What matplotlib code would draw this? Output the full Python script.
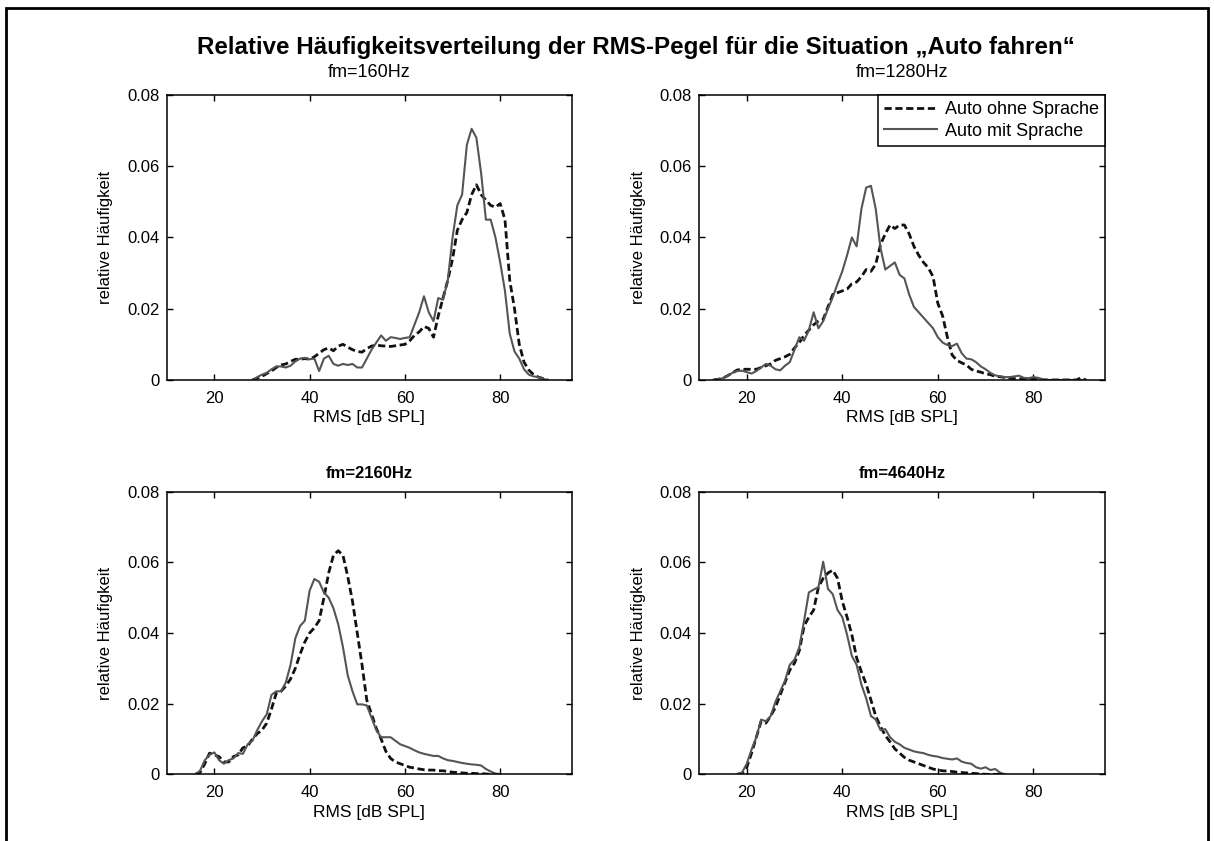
import numpy as np
import matplotlib
matplotlib.use('Agg')
from matplotlib import pyplot as plt
from matplotlib.patches import Rectangle

plt.rcParams['font.family'] = ['Liberation Sans', 'DejaVu Sans']

x160 = np.arange(28, 91)
mit160 = [0.0, 0.0008, 0.0015, 0.002, 0.003, 0.0038, 0.0038, 0.0035, 0.004, 0.0052,
          0.006, 0.0062, 0.0058, 0.006, 0.0025, 0.006, 0.0068, 0.0045, 0.004, 0.0045,
          0.0042, 0.0045, 0.0035, 0.0035, 0.006, 0.0085, 0.0105, 0.0125, 0.011, 0.012,
          0.0118, 0.0115, 0.0118, 0.012, 0.0155, 0.019, 0.0235, 0.019, 0.0165, 0.023,
          0.0225, 0.028, 0.04, 0.049, 0.052, 0.066, 0.0705, 0.068, 0.058, 0.045,
          0.045, 0.04, 0.033, 0.025, 0.013, 0.008, 0.006, 0.003, 0.0015, 0.001,
          0.0008, 0.0003, 0.0]
ohne160 = [0.0, 0.0005, 0.001, 0.0018, 0.0025, 0.0035, 0.0042, 0.0045, 0.0052, 0.0058,
           0.0058, 0.006, 0.0058, 0.0065, 0.0075, 0.0085, 0.009, 0.0082, 0.0095, 0.01,
           0.0092, 0.0085, 0.008, 0.0078, 0.0088, 0.0095, 0.0098, 0.0096, 0.0095, 0.0094,
           0.0096, 0.0098, 0.01, 0.011, 0.0125, 0.0135, 0.015, 0.0145, 0.012, 0.018,
           0.023, 0.028, 0.034, 0.042, 0.045, 0.047, 0.052, 0.0548, 0.052, 0.0505,
           0.049, 0.0485, 0.0495, 0.045, 0.028, 0.02, 0.01, 0.005, 0.0028, 0.0015,
           0.0008, 0.0004, 0.0]

x1280 = np.arange(13, 92)
mit1280 = [0.0, 0.0002, 0.0005, 0.0012, 0.002, 0.0025, 0.0026, 0.0022, 0.0018, 0.0025,
           0.0035, 0.0045, 0.004, 0.003, 0.0027, 0.004, 0.005, 0.0085, 0.012, 0.011,
           0.014, 0.019, 0.0145, 0.0165, 0.02, 0.0232, 0.027, 0.0305, 0.035, 0.04,
           0.0375, 0.048, 0.054, 0.0545, 0.048, 0.037, 0.031, 0.032, 0.033, 0.0295,
           0.0285, 0.024, 0.0205, 0.019, 0.0175, 0.016, 0.0145, 0.012, 0.0105, 0.0098,
           0.0095, 0.0102, 0.0075, 0.006, 0.0058, 0.005, 0.0038, 0.003, 0.002, 0.0013,
           0.001, 0.0008, 0.0008, 0.001, 0.0012, 0.0006, 0.0005, 0.0008, 0.0006, 0.0002,
           0.0, 0.0, 0.0, 0.0, 0.0, 0.0, 0.0, 0.0, 0.0]
ohne1280 = [0.0, 0.0002, 0.0005, 0.0012, 0.002, 0.0028, 0.003, 0.003, 0.003, 0.003,
            0.0035, 0.004, 0.0045, 0.0055, 0.006, 0.0065, 0.0072, 0.009, 0.0105, 0.0125,
            0.014, 0.0155, 0.0165, 0.017, 0.0205, 0.024, 0.0245, 0.025, 0.0255, 0.027,
            0.0275, 0.029, 0.031, 0.0305, 0.0325, 0.038, 0.041, 0.0435, 0.0425, 0.0435,
            0.0435, 0.041, 0.0375, 0.035, 0.033, 0.0315, 0.029, 0.0215, 0.018, 0.012,
            0.007, 0.0055, 0.0048, 0.0042, 0.003, 0.0025, 0.0022, 0.0017, 0.0015, 0.001,
            0.0009, 0.0007, 0.0005, 0.0004, 0.0003, 0.0003, 0.0003, 0.0002, 0.0001, 0.0,
            0.0, 0.0, 0.0, 0.0, 0.0, 0.0, 0.0, 0.0006, 0.0]

x2160 = np.arange(16, 81)
mit2160 = [0.0, 0.001, 0.004, 0.0055, 0.0062, 0.004, 0.003, 0.004, 0.0045, 0.006,
           0.0058, 0.0085, 0.0095, 0.0125, 0.015, 0.017, 0.0225, 0.0235, 0.0235, 0.026,
           0.031, 0.0385, 0.042, 0.0435, 0.052, 0.0553, 0.0545, 0.0515, 0.05, 0.047,
           0.0425, 0.036, 0.028, 0.0235, 0.0198, 0.0198, 0.0195, 0.016, 0.0125, 0.0105,
           0.0105, 0.0105, 0.0095, 0.0085, 0.008, 0.0075, 0.0068, 0.0062, 0.0058, 0.0055,
           0.0052, 0.0052, 0.0045, 0.004, 0.0038, 0.0035, 0.0032, 0.003, 0.0028, 0.0027,
           0.0025, 0.0015, 0.0008, 0.0002, 0.0]
ohne2160 = [0.0, 0.0005, 0.003, 0.006, 0.0055, 0.005, 0.0035, 0.0035, 0.005, 0.0055,
            0.0075, 0.008, 0.01, 0.0115, 0.0125, 0.0145, 0.0185, 0.023, 0.0235, 0.025,
            0.027, 0.03, 0.034, 0.0375, 0.04, 0.0415, 0.0435, 0.05, 0.057, 0.062,
            0.0633, 0.062, 0.056, 0.049, 0.04, 0.031, 0.021, 0.017, 0.013, 0.01,
            0.0065, 0.0045, 0.0035, 0.003, 0.0025, 0.002, 0.0018, 0.0015, 0.0013, 0.0012,
            0.0012, 0.001, 0.001, 0.0008, 0.0006, 0.0005, 0.0004, 0.0003, 0.0003, 0.0002,
            0.0002, 0.0001, 0.0, 0.0, 0.0]

x4640 = np.arange(18, 75)
mit4640 = [0.0, 0.0005, 0.003, 0.007, 0.0105, 0.0155, 0.015, 0.0165, 0.0205, 0.0235,
           0.0265, 0.031, 0.0325, 0.036, 0.0435, 0.0515, 0.0523, 0.053, 0.0602, 0.0525,
           0.051, 0.0465, 0.0445, 0.0395, 0.0335, 0.031, 0.0254, 0.0215, 0.0165, 0.0155,
           0.0125, 0.0128, 0.0105, 0.0092, 0.0085, 0.0075, 0.007, 0.0065, 0.0062, 0.006,
           0.0055, 0.0052, 0.005, 0.0046, 0.0044, 0.0042, 0.0045, 0.0036, 0.0032, 0.003,
           0.002, 0.0016, 0.002, 0.0012, 0.0015, 0.0005, 0.0]
ohne4640 = [0.0, 0.0003, 0.002, 0.006, 0.0105, 0.015, 0.0145, 0.0165, 0.019, 0.0225,
            0.026, 0.0295, 0.0315, 0.035, 0.042, 0.0445, 0.0465, 0.053, 0.0555, 0.057,
            0.0578, 0.0555, 0.049, 0.0445, 0.0395, 0.033, 0.029, 0.0255, 0.021, 0.0165,
            0.0135, 0.011, 0.0092, 0.0072, 0.006, 0.0048, 0.004, 0.0035, 0.003, 0.0025,
            0.002, 0.0015, 0.0012, 0.001, 0.0009, 0.0008, 0.0006, 0.0005, 0.0004, 0.0003,
            0.0002, 0.0001, 0.0, 0.0, 0.0, 0.0, 0.0]

titel = ['fm=160Hz', 'fm=1280Hz', 'fm=2160Hz', 'fm=4640Hz']
xs = [x160, x1280, x2160, x4640]
mits = [mit160, mit1280, mit2160, mit4640]
ohnes = [ohne160, ohne1280, ohne2160, ohne4640]

fig = plt.figure(figsize=(12.14, 8.41), dpi=100)

# Achsenpositionen wie im Original (links, unten, breite, hoehe)
pos = [[0.1373, 0.5482, 0.3336, 0.3389],
       [0.5758, 0.5482, 0.3344, 0.3389],
       [0.1373, 0.0793, 0.3336, 0.3360],
       [0.5758, 0.0793, 0.3344, 0.3360]]

for i in range(4):
    ax = fig.add_axes(pos[i])
    ax.plot(xs[i], ohnes[i], color='#111111', lw=2.0, ls=(0, (2.6, 1.3)),
            label='Auto ohne Sprache')
    ax.plot(xs[i], mits[i], color='#555555', lw=1.5, label='Auto mit Sprache')
    ax.set_xlim(10, 95)
    ax.set_ylim(0, 0.08)
    ax.set_xticks([20, 40, 60, 80])
    ax.set_yticks([0, 0.02, 0.04, 0.06, 0.08])
    ax.set_yticklabels(['0', '0.02', '0.04', '0.06', '0.08'])
    ax.tick_params(direction='in', length=4, width=1, top=True, right=True,
                   labelsize=12)
    ax.tick_params(axis='x', pad=8)
    ax.tick_params(axis='y', pad=5)
    for s in ax.spines.values():
        s.set_linewidth(1.1)
    ax.set_xlabel('RMS [dB SPL]', fontsize=12.5, labelpad=3)
    ax.set_ylabel('relative Häufigkeit', fontsize=12, labelpad=10)
    if i < 2:
        ax.set_title(titel[i], fontsize=13, pad=13)
    else:
        ax.set_title(titel[i], fontsize=12, fontweight='bold', pad=10)
    if i == 1:
        ax.legend(loc='upper right', borderaxespad=0, fontsize=13, fancybox=False,
                  edgecolor='black', framealpha=1, handlelength=2.9,
                  handletextpad=0.45, labelspacing=0.25, borderpad=0.35)
        ax.get_legend().get_frame().set_linewidth(1.1)

fig.text(0.524, 0.944, 'Relative Häufigkeitsverteilung der RMS-Pegel für die Situation „Auto fahren“',
         ha='center', va='center', fontsize=17.4, fontweight='bold')

# Rahmen um die ganze Grafik (unten abgeschnitten)
fig.add_artist(Rectangle((0.005, -0.05), 0.99, 1.04, transform=fig.transFigure,
                         fill=False, edgecolor='black', lw=2))

fig.savefig('out.png', dpi=100)
